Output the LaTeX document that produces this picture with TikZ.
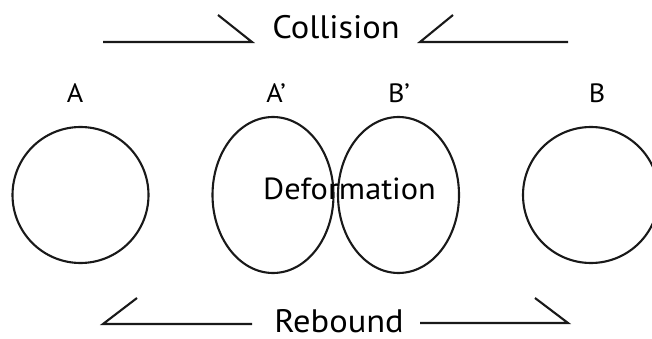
\documentclass[tikz,border=0pt]{standalone}
\usepackage{fontspec}
\setmainfont{PT Sans}[FakeStretch=1.06]
\usetikzlibrary{shapes.geometric}
\begin{document}
\begin{tikzpicture}[x=1pt,y=-1pt,
  ln/.style={line width=2.1pt, line join=miter, line cap=butt, color=black!90},
  ball/.style={draw=black!90, line width=2.1pt, circle, minimum size=136pt, inner sep=0pt},
  squash/.style={draw=black!90, line width=2.1pt, ellipse, minimum width=121pt, minimum height=156pt, inner sep=0pt},
  lbl/.style={font=\fontsize{26.5}{28}\selectfont, anchor=base, inner sep=0pt},
  ttl/.style={font=\fontsize{32.5}{34}\selectfont, anchor=base, inner sep=0pt}]
\useasboundingbox (0,0) rectangle (652,339);
% balls
\node[ball] (a) at (80.5,195) {};
\node[ball] (b) at (591,195) {};
\node[squash] (ap) at (273,195) {};
\node[squash] (bp) at (398.5,195) {};
% labels
\node[lbl] (la) at (75,103) {A};
\node[lbl] (lap) at (276,103) {A’};
\node[lbl] (lbp) at (399,103) {B’};
\node[lbl] (lb) at (597,103) {B};
\node[font=\fontsize{30.5}{32}\selectfont, anchor=base, inner sep=0pt] (def) at (349.5,199) {Deformation};
% titles
\node[ttl] (col) at (336,39) {Collision};
\node[ttl] (reb) at (339,332.5) {Rebound};
% collision arrows
\coordinate (c1s) at (103,42);
\coordinate (c1e) at (252,42);
\coordinate (c1b) at (218,15);
\coordinate (c2s) at (568,42);
\coordinate (c2e) at (420,42);
\coordinate (c2b) at (453,15);
\draw[ln] (c1s) -- (c1e) -- (c1b);
\draw[ln] (c2s) -- (c2e) -- (c2b);
% rebound arrows
\coordinate (r1s) at (252,324);
\coordinate (r1e) at (103,324);
\coordinate (r1b) at (137,298);
\coordinate (r2s) at (420,323);
\coordinate (r2e) at (568,323);
\coordinate (r2b) at (535,298);
\draw[ln] (r1s) -- (r1e) -- (r1b);
\draw[ln] (r2s) -- (r2e) -- (r2b);
\end{tikzpicture}
\end{document}
